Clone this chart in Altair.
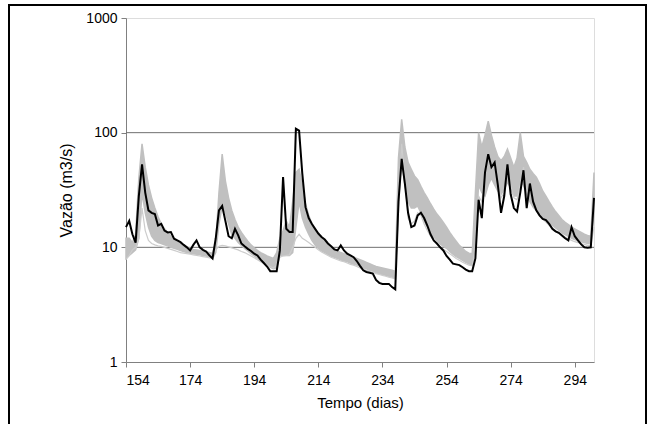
import altair as alt
import pandas as pd

# ---------------- data ----------------
first_day = 154
obs = [15, 17, 13, 11, 28, 53, 30, 21, 20, 19.5,
       15.5, 16, 14, 13.5, 13.6, 11.9, 11.5, 11.1, 10.5, 10,
       9.4, 10.5, 11.5, 10, 9.5, 9.2, 8.5, 8, 12, 21,
       23, 17, 12.5, 12, 14.5, 12.7, 10.8, 10.2, 9.7, 9.3,
       8.8, 8.5, 7.8, 7.3, 6.8, 6.2, 6.2, 6.2, 9.4, 41,
       14.5, 13.6, 13.6, 108, 104, 44, 22.4, 18, 16, 14.5,
       13.2, 12.3, 11.7, 10.8, 10.2, 9.6, 9.4, 10.4, 9.4, 8.8,
       8.5, 8.2, 7.6, 6.9, 6.3, 6.1, 6.0, 5.9, 5.2, 4.9,
       4.8, 4.8, 4.8, 4.5, 4.3, 25, 59, 36, 20, 15,
       15.5, 19, 20, 18, 15.5, 13, 11.5, 10.8, 10, 9.4,
       8.4, 7.8, 7.2, 7.1, 7.0, 6.7, 6.4, 6.2, 6.2, 8,
       26, 18, 45, 65, 50, 55, 35, 20, 28, 53,
       29, 22, 20.5, 30, 47, 22, 36, 25, 21, 19,
       17.7, 17.3, 16, 14.5, 13.8, 13.4, 12.7, 12, 11.5, 15,
       12.5, 11.5, 10.6, 10, 9.9, 10, 27]

ens_upper = [12, 12, 11, 13, 40, 80, 50, 35, 27, 22,
             18.5, 16, 14.5, 13.5, 12.5, 11.8, 11.2, 10.8, 10.4, 10,
             9.8, 9.6, 9.5, 9.4, 9.3, 9.1, 9, 8.9, 11, 30,
             65, 38, 27, 21, 17.5, 15, 13.5, 12.3, 11.3, 10.5,
             9.9, 9.4, 9.0, 8.7, 8.4, 8.2, 8.0, 9, 12, 14,
             17, 15, 25, 45, 48, 35, 24, 19, 16, 14,
             12.8, 12, 11.2, 10.6, 10, 9.6, 9.3, 9.0, 8.8, 8.6,
             8.4, 8.2, 8.0, 7.8, 7.6, 7.4, 7.2, 7.0, 6.8, 6.7,
             6.6, 6.5, 6.4, 6.3, 6.2, 60, 131, 75, 55, 48,
             42, 39, 34, 30, 27, 24, 21.5, 19.5, 18, 16.5,
             15, 13.5, 12.3, 11.3, 10.4, 9.8, 9.2, 8.9, 8.8, 30,
             100, 75, 95, 126, 95, 75, 62, 57, 62, 72,
             60, 50, 60, 100, 62, 55, 48, 44, 41, 36,
             31, 28, 25, 22.5, 20.5, 19, 17.5, 16.5, 15.8, 15,
             14.5, 14, 13.5, 13, 12.7, 12.5, 45]

ens_lower = [8, 8.5, 9, 9.5, 12, 30, 20, 15, 12.5, 11.5,
             11, 10.8, 10.5, 10.3, 10, 9.8, 9.6, 9.4, 9.2, 9,
             8.9, 8.8, 8.7, 8.6, 8.5, 8.4, 8.2, 8, 9, 16,
             23, 20, 16, 13, 12, 11, 10.4, 9.8, 9.3, 8.8,
             8.4, 8, 7.6, 7.3, 7.0, 6.7, 6.5, 6.6, 8.5, 8.5,
             8.5, 8.5, 9, 15, 25, 18, 15, 13, 11.5, 10.5,
             9.8, 9.3, 9, 8.7, 8.4, 8.2, 8, 7.8, 7.6, 7.5,
             7.3, 7.1, 7.0, 6.8, 6.6, 6.5, 6.3, 6.2, 6.0, 5.9,
             5.8, 5.7, 5.6, 5.5, 5.4, 25, 60, 35, 25, 22,
             22, 23, 20, 17, 15, 13.5, 12.3, 11.5, 10.7, 10.2,
             9.8, 9.2, 8.7, 8.3, 8, 7.7, 7.4, 7.2, 7.0, 12,
             35, 30, 28, 35, 40, 35, 31, 29, 32, 37,
             33, 28, 28, 38, 35, 29, 25, 22.5, 21, 19.5,
             18.5, 17.3, 16.4, 15.6, 14.8, 14.1, 13.4, 12.9, 12.5, 12,
             11.7, 11.4, 11.2, 11, 10.8, 10.7, 20]

ens_outlier = [7.8, 8.5, 9.5, 10, 12, 22, 14, 11.5, 10.8, 10.5,
               10.3, 10.2, 10, 9.8, 9.6, 9.4, 9.2, 9, 8.9, 8.8,
               8.7, 8.6, 8.5, 8.4, 8.3, 8.2, 8.1, 8.5, 9.5, 10.2,
               10.4, 10.3, 10.1, 9.9, 9.7, 9.5, 9.2, 9.0, 8.7, 8.4,
               8.1, 7.8, 7.5, 7.2, 7.0, 6.8, 6.6, 7, 8.2, 8.4,
               8.5, 8.6, 10, 12, 13, 12, 11.5, 11, 10.5, 10,
               9.5, 9.1, 8.8, 8.5, 8.2, 8, 7.8, 7.6, 7.5, 7.3,
               7.1, 7.0, 6.8, 6.6, 6.5, 6.3, 6.2, 6.0, 5.9, 5.8,
               5.7, 5.6, 5.5, 5.4, 5.3, 20, 80, 40, 18, 16,
               17, 20, 19, 16, 14, 12.5, 11.5, 10.7, 10.1, 9.6,
               9.2, 8.8, 8.4, 8, 7.7, 7.4, 7.2, 7.0, 6.9, 10,
               28, 25, 45, 60, 48, 50, 36, 27, 30, 45,
               35, 27, 26, 35, 50, 30, 32, 25, 21, 19,
               17.6, 16.6, 15.6, 14.8, 14, 13.4, 12.8, 12.3, 11.9, 11.5,
               11.2, 11, 10.8, 10.6, 10.4, 10.3, 15]

x_ticks = [154, 174, 194, 214, 234, 254, 274, 294]
y_ticks = [1, 10, 100, 1000]
grid_values = [10, 100]

days = list(range(first_day, first_day + len(obs)))

band = pd.DataFrame({"dia": days, "lo": ens_lower, "hi": ens_upper})
outl = pd.DataFrame({"dia": days, "vazao": ens_outlier})
obsd = pd.DataFrame({"dia": days, "vazao": obs})
grid = pd.DataFrame({"v": grid_values})

FONT = "Liberation Sans"
GRAY = "#c0c0c0"

xs = alt.Scale(domain=[154, 300], nice=False, zero=False)
ys = alt.Scale(type="log", domain=[1, 1000], nice=False)

xax = alt.Axis(values=x_ticks, title="Tempo (dias)", grid=False, tickSize=5,
               labelPadding=6, titlePadding=8, labelFontSize=14,
               titleFontSize=15, labelFont=FONT, titleFont=FONT,
               titleFontWeight="normal", domainColor="#808080",
               tickColor="#808080", labelColor="black", titleColor="black")
yax = alt.Axis(values=y_ticks, format="d", title="Vazão (m3/s)", grid=False,
               tickSize=5, labelPadding=4, titlePadding=11, labelFontSize=14,
               titleFontSize=16, labelFont=FONT, titleFont=FONT,
               titleFontWeight="normal", domainColor="#808080",
               tickColor="#808080", labelColor="black", titleColor="black")

gridlayer = alt.Chart(grid).mark_rule(color="#707070", strokeWidth=1).encode(
    y=alt.Y("v:Q", scale=ys, axis=yax)
)

area = alt.Chart(band).mark_area(color=GRAY, stroke=GRAY, strokeWidth=1.5).encode(
    x=alt.X("dia:Q", scale=xs, axis=xax),
    y=alt.Y("lo:Q", scale=ys, axis=yax),
    y2="hi:Q",
)

outline = alt.Chart(outl).mark_line(color="#cccccc", strokeWidth=1.2).encode(
    x=alt.X("dia:Q", scale=xs, axis=xax),
    y=alt.Y("vazao:Q", scale=ys, axis=yax),
)

obsline = alt.Chart(obsd).mark_line(color="black", strokeWidth=2).encode(
    x=alt.X("dia:Q", scale=xs, axis=xax),
    y=alt.Y("vazao:Q", scale=ys, axis=yax),
)

frame = alt.Chart(alt.Data(values=[{"f": 1}])).mark_rect(
    fillOpacity=0, stroke="black", strokeWidth=2, clip=False
).encode(
    x=alt.value(-117), x2=alt.value(520), y=alt.value(-13), y2=alt.value(411)
)

chart = alt.layer(gridlayer, area, outline, obsline, frame).properties(
    width=468, height=344,
    autosize=alt.AutoSizeParams(type="none"),
    padding={"left": 126, "top": 18, "right": 57, "bottom": 62},
).configure_view(stroke="#c0c0c0", strokeWidth=1.5).configure(background="white")

chart.save("out.html", embed_options={"renderer": "svg", "actions": False})
